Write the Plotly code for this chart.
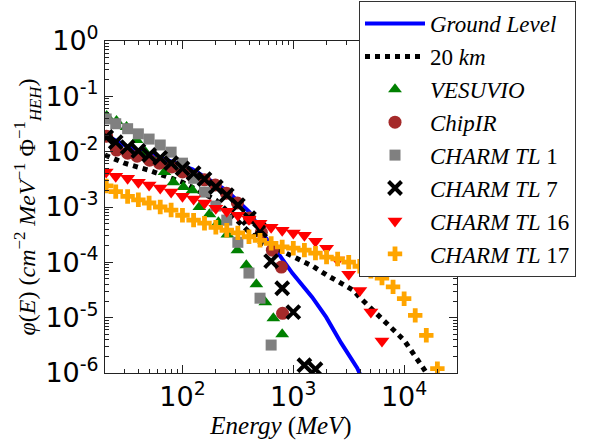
import plotly.graph_objects as go

# ---------------- data ----------------
E_TL = [20.5, 25, 32, 40, 50, 63, 79, 100, 126, 158, 200, 251, 316, 398, 501, 631,
        794, 1000, 1259, 1585, 1995, 2512, 3162, 3981, 5012, 6310, 7943, 10000,
        12589, 15849, 19953]

ground_E = [20, 33, 62, 123, 249, 402, 548, 750, 979, 1480, 1980, 2700, 3780, 4000]
ground_phi = [2.0e-2, 1.2e-2, 8.0e-3, 4.8e-3, 2.0e-3, 8.1e-4, 3.0e-4, 1.35e-4, 6.4e-5,
              2.35e-5, 1.02e-5, 3.5e-6, 1.22e-6, 9.5e-7]

km20_E = [20, 30, 50, 100, 200, 300, 400, 500, 700, 1000, 1500, 2000, 2500, 3000,
          3500, 4000, 5000, 7000, 10000, 15000, 17000]
km20_phi = [8.7e-3, 6.2e-3, 4.6e-3, 2.8e-3, 1.33e-3, 6.3e-4, 3.5e-4, 2.3e-4, 1.8e-4,
            1.3e-4, 8.5e-5, 5.9e-5, 4.6e-5, 3.7e-5, 3.1e-5, 2.3e-5, 1.5e-5, 8.0e-6,
            3.9e-6, 1.2e-6, 8e-7]

vesuvio_E = [20.7, 25.4, 31.3, 38.5, 46.4, 57, 68.8, 82.9, 102, 123, 142, 175, 211,
             254, 313, 377, 464, 559, 661, 794]
vesuvio_phi = [4.4e-2, 3.6e-2, 2.8e-2, 1.62e-2, 9.8e-3, 6.5e-3, 4.3e-3, 2.8e-3, 2.3e-3,
               2.0e-3, 1.0e-3, 7.4e-4, 5.3e-4, 3.2e-4, 1.66e-4, 8.9e-5, 4.0e-5,
               1.9e-5, 9.8e-6, 5.0e-6]

chipir_E = [20.7, 25.4, 32, 39, 50.5, 62, 80, 100, 123, 158, 198, 249, 313, 402, 515,
            647, 780, 800]
chipir_phi = [1.9e-2, 1.07e-2, 9.4e-3, 8.3e-3, 7.0e-3, 6.2e-3, 5.3e-3, 4.3e-3, 3.6e-3,
              3.1e-3, 2.5e-3, 1.78e-3, 1.18e-3, 6.3e-4, 3.5e-4, 1.66e-4, 8.2e-5, 1.2e-5]

tl1_phi = [3.9e-2, 3.2e-2, 2.6e-2, 2.1e-2, 1.69e-2, 1.32e-2, 9.8e-3, 6.2e-3, 3.3e-3,
           1.86e-3, 1.04e-3, 5.8e-4, 2.3e-4, 6.4e-5, 2.25e-5, 3.2e-6]

tl7_phi = [1.84e-2, 1.49e-2, 1.21e-2, 1.03e-2, 8.7e-3, 7.7e-3, 6.2e-3, 5.0e-3, 4.1e-3,
           3.2e-3, 2.3e-3, 1.64e-3, 1.08e-3, 6.3e-4, 3.8e-4, 1.05e-4, 3.4e-5, 1.26e-5,
           1.38e-6, 1.17e-6]

tl16_phi = [4.3e-3, 3.6e-3, 3.3e-3, 2.8e-3, 2.5e-3, 2.2e-3, 1.86e-3, 1.57e-3, 1.39e-3,
            1.18e-3, 9.5e-4, 8.4e-4, 7.1e-4, 6.0e-4, 5.1e-4, 4.3e-4, 3.8e-4, 3.4e-4,
            3.1e-4, 2.4e-4, 1.8e-4, 1.1e-4, 6.1e-5, 3.1e-5, 1.26e-5, 3.8e-6, 7.4e-7]

tl17_phi = [2.4e-3, 1.9e-3, 1.55e-3, 1.35e-3, 1.18e-3, 1.0e-3, 8.8e-4, 7.1e-4, 5.8e-4,
            5.1e-4, 4.3e-4, 3.8e-4, 3.4e-4, 2.9e-4, 2.5e-4, 2.2e-4, 1.9e-4, 1.8e-4,
            1.66e-4, 1.47e-4, 1.24e-4, 1.15e-4, 1.01e-4, 8.5e-5, 6.9e-5, 5.2e-5,
            3.6e-5, 2.2e-5, 1.1e-5, 4.8e-6, 1.2e-6]

x_tickvals = [100, 1000, 10000]
x_ticktext = ["10<sup>2</sup>", "10<sup>3</sup>", "10<sup>4</sup>"]
y_tickvals = [1e-6, 1e-5, 1e-4, 1e-3, 1e-2, 1e-1, 1]
y_ticktext = ["10<sup>-6</sup>", "10<sup>-5</sup>", "10<sup>-4</sup>", "10<sup>-3</sup>",
              "10<sup>-2</sup>", "10<sup>-1</sup>", "10<sup>0</sup>"]

SERIF = "Liberation Serif"
SANS = "DejaVu Sans"

fig = go.Figure()
fig.add_trace(go.Scatter(x=ground_E, y=ground_phi, mode="lines", name="<i>Ground Level</i>",
                         line=dict(color="#0000ff", width=4)))
fig.add_trace(go.Scatter(x=km20_E, y=km20_phi, mode="lines", name="20 <i>km</i>",
                         line=dict(color="black", width=5, dash="5px,5px")))
fig.add_trace(go.Scatter(x=vesuvio_E, y=vesuvio_phi, mode="markers", name="<i>VESUVIO</i>",
                         marker=dict(symbol="triangle-up", size=12, color="#008000")))
fig.add_trace(go.Scatter(x=chipir_E, y=chipir_phi, mode="markers", name="<i>ChipIR</i>",
                         marker=dict(symbol="circle", size=13, color="#a52a2a")))
fig.add_trace(go.Scatter(x=E_TL[:len(tl1_phi)], y=tl1_phi, mode="markers",
                         name="<i>CHARM TL</i> 1",
                         marker=dict(symbol="square", size=11, color="#808080")))
fig.add_trace(go.Scatter(x=E_TL[:len(tl7_phi)], y=tl7_phi, mode="markers",
                         name="<i>CHARM TL</i> 7",
                         marker=dict(symbol="x-thin", size=13, color="black",
                                     line=dict(color="black", width=4))))
fig.add_trace(go.Scatter(x=E_TL[:len(tl16_phi)], y=tl16_phi, mode="markers",
                         name="<i>CHARM TL</i> 16",
                         marker=dict(symbol="triangle-down", size=13, color="#ff0000")))
fig.add_trace(go.Scatter(x=E_TL[:len(tl17_phi)], y=tl17_phi, mode="markers",
                         name="<i>CHARM TL</i> 17",
                         marker=dict(symbol="cross", size=12, color="#ffa500")))

axis_common = dict(type="log", showgrid=False, zeroline=False, showline=True,
                   linecolor="#222", linewidth=1, mirror="ticks", ticks="inside",
                   ticklen=8, tickwidth=1, tickcolor="#222",
                   tickfont=dict(family=SANS, size=27, color="black"),
                   minor=dict(ticks="inside", ticklen=4, tickcolor="#222", dtick="D1",
                              showgrid=False))

fig.update_xaxes(**axis_common, range=[1.301, 4.477], tickvals=x_tickvals,
                 ticktext=x_ticktext,
                 title=dict(text="<i>Energy</i> (<i>MeV</i>)",
                            font=dict(family=SERIF, size=25, color="black"), standoff=0))
fig.update_yaxes(**axis_common, range=[-6, 0], tickvals=y_tickvals, ticktext=y_ticktext,
                 title=dict(text="<i>φ</i>(<i>E</i>) (<i>cm</i><sup>−2</sup> <i>MeV</i><sup>−1</sup> Φ<sup>−1</sup><sub><i>HEH</i></sub>)",
                            font=dict(family=SERIF, size=24, color="black"), standoff=2))

fig.update_layout(
    width=592, height=441,
    margin=dict(l=105, r=135, t=41, b=68, autoexpand=False),
    paper_bgcolor="white", plot_bgcolor="white",
    showlegend=True,
    legend=dict(x=0.7216, y=0.289, xanchor="left", yanchor="bottom",
                bgcolor="white", bordercolor="#333", borderwidth=1,
                font=dict(family=SERIF, size=23, color="black"),
                itemwidth=60, tracegroupgap=0),
)

fig.write_html("out.html")
